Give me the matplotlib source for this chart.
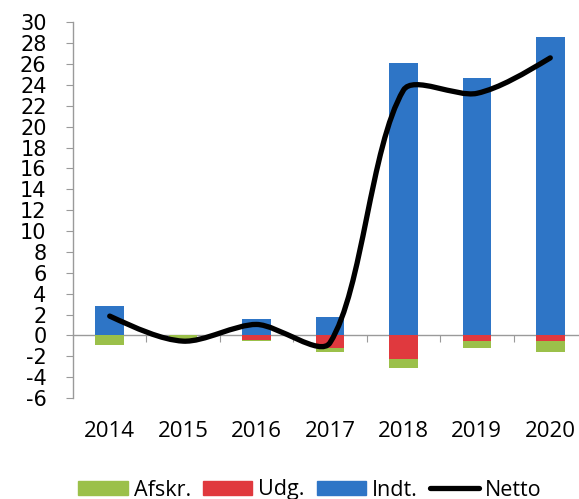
import numpy as np
import matplotlib
matplotlib.use("Agg")
import matplotlib.pyplot as plt
from matplotlib.path import Path
from matplotlib.patches import PathPatch, Patch
from matplotlib.lines import Line2D

years = ["2014", "2015", "2016", "2017", "2018", "2019", "2020"]
indt = [2.8, 0.0, 1.6, 1.75, 26.1, 24.7, 28.6]
udg = [0.0, 0.0, -0.45, -1.25, -2.25, -0.55, -0.55]
afskr = [-0.95, -0.4, -0.05, -0.35, -0.85, -0.65, -1.0]
netto = [1.85, -0.55, 1.05, -0.7, 23.5, 23.2, 26.6]
yticks = list(range(-6, 31, 2))

C_GREEN = "#9BC04A"
C_RED = "#E0393E"
C_BLUE = "#2E75C6"
GRAY = "#9A9A9A"

W, H = 579, 499
fig = plt.figure(figsize=(W / 100, H / 100), dpi=100)

left_px, right_px = 73, 587
top_px, bot_px = 22.4, 398
ax_rect = [left_px / W, (H - bot_px) / H, (right_px - left_px) / W, (bot_px - top_px) / H]
ax = fig.add_axes(ax_rect)
ax.set_xlim(-0.5, 6.5)
ax.set_ylim(-6, 30)

x = np.arange(len(years))
bw = 0.39
ax.bar(x, indt, bw, color=C_BLUE, zorder=2)
ax.bar(x, udg, bw, color=C_RED, zorder=2)
ax.bar(x, afskr, bw, bottom=udg, color=C_GREEN, zorder=2)

# smoothed line, Excel-like Bezier with distance-weighted tangents (in pixel space)
sx = (right_px - left_px) / 7.0
sy = (bot_px - top_px) / 36.0
P = np.column_stack([x * sx, np.array(netto) * sy]).astype(float)
n = len(P)
tension = 0.29
ctrl_in = [None] * n
ctrl_out = [None] * n
for i in range(n):
    if i == 0 or i == n - 1:
        ctrl_in[i] = P[i]
        ctrl_out[i] = P[i]
        continue
    d1 = np.linalg.norm(P[i] - P[i - 1])
    d2 = np.linalg.norm(P[i + 1] - P[i])
    tvec = P[i + 1] - P[i - 1]
    ctrl_in[i] = P[i] - tension * tvec * d1 / (d1 + d2)
    ctrl_out[i] = P[i] + tension * tvec * d2 / (d1 + d2)
ctrl_out[0] = P[0] + (ctrl_in[1] - P[0]) / 2.0
ctrl_in[n - 1] = P[n - 1] + (ctrl_out[n - 2] - P[n - 1]) / 2.0
verts = [P[0]]
codes = [Path.MOVETO]
for i in range(n - 1):
    verts += [ctrl_out[i], ctrl_in[i + 1], P[i + 1]]
    codes += [Path.CURVE4] * 3
verts = np.array(verts)
verts[:, 0] /= sx
verts[:, 1] /= sy
path = Path(verts, codes)
ax.add_patch(PathPatch(path, facecolor="none", edgecolor="black", lw=3.8,
                       capstyle="round", joinstyle="round", zorder=3))

for s in ["top", "right"]:
    ax.spines[s].set_visible(False)
ax.spines["left"].set_color(GRAY)
ax.spines["left"].set_linewidth(1.0)
ax.spines["bottom"].set_position(("data", 0))
ax.spines["bottom"].set_color(GRAY)
ax.spines["bottom"].set_linewidth(1.0)
ax.spines["bottom"].set_zorder(1)

ax.set_yticks(yticks)
ax.set_yticklabels([str(v) for v in yticks], fontsize=15, family="DejaVu Sans")
ax.tick_params(axis="y", direction="out", length=5, color=GRAY, pad=14)
ax.set_xticks(np.arange(0.5, 6.0, 1.0))
ax.set_xticklabels([])
ax.tick_params(axis="x", direction="out", length=5, color=GRAY)

ax2 = fig.add_axes([ax_rect[0], (H - 421) / H, ax_rect[2], 0.001])
ax2.set_xlim(-0.5, 6.5)
ax2.set_xticks(x)
ax2.set_xticklabels(years, fontsize=16, family="Open Sans")
ax2.tick_params(axis="x", length=0, pad=0)
ax2.set_yticks([])
for s in ax2.spines.values():
    s.set_visible(False)
ax2.patch.set_visible(False)

handles = [Patch(color=C_GREEN), Patch(color=C_RED), Patch(color=C_BLUE),
           Line2D([0], [0], color="black", lw=3.8, solid_capstyle="round")]
labels = ["Afskr.", "Udg.", "Indt.", "Netto"]
fig.legend(handles, labels, loc="center", bbox_to_anchor=(310 / W, 1 - 490 / H),
           ncol=4, frameon=False, prop={"family": "Open Sans", "size": 15.5},
           handlelength=2.3, handleheight=0.65, handletextpad=0.28,
           columnspacing=0.55, borderpad=0)

fig.savefig("out.png", dpi=100)
